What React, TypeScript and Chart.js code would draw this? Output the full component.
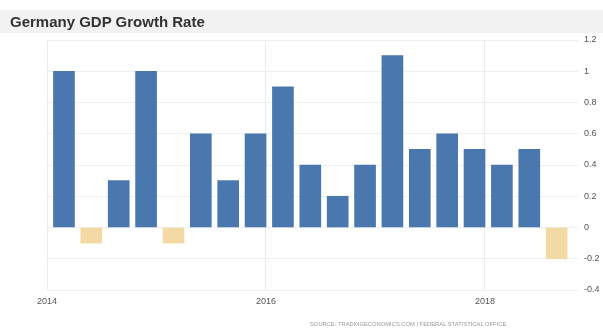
import React, { useEffect, useRef } from "react";
import { Chart, registerables } from "chart.js";

Chart.register(...registerables);

const quarters = [
  "2014Q1", "2014Q2", "2014Q3", "2014Q4",
  "2015Q1", "2015Q2", "2015Q3", "2015Q4",
  "2016Q1", "2016Q2", "2016Q3", "2016Q4",
  "2017Q1", "2017Q2", "2017Q3", "2017Q4",
  "2018Q1", "2018Q2", "2018Q3",
];
const growth = [
  1.0, -0.1, 0.3, 1.0,
  -0.1, 0.6, 0.3, 0.6,
  0.9, 0.4, 0.2, 0.4,
  1.1, 0.5, 0.6, 0.5,
  0.4, 0.5, -0.2,
];
const yearTicks = [2014, 2016, 2018];
const yMin = -0.4;
const yMax = 1.2;
const yStep = 0.2;

const title = "Germany GDP Growth Rate";
const source = "SOURCE: TRADINGECONOMICS.COM | FEDERAL STATISTICAL OFFICE";

const POS_COLOR = "#4a77ae";
const NEG_COLOR = "#f3d9a3";

function quarterToX(q: string): number {
  const year = Number(q.slice(0, 4));
  const n = Number(q.slice(5));
  return year + (n - 1) / 4 + 0.155;
}

export default function App() {
  const ref = useRef<HTMLCanvasElement | null>(null);

  useEffect(() => {
    if (!ref.current) return;
    const chart = new Chart(ref.current, {
      type: "bar",
      data: {
        datasets: [
          {
            data: quarters.map((q, i) => ({ x: quarterToX(q), y: growth[i] })),
            backgroundColor: growth.map((v) => (v < 0 ? NEG_COLOR : POS_COLOR)),
            borderWidth: 0,
            barThickness: 21,
          } as any,
        ],
      },
      options: {
        responsive: false,
        animation: false,
        layout: { padding: { left: 47, top: 40, right: 0, bottom: 0 } },
        plugins: {
          legend: { display: false },
          tooltip: { enabled: false },
          title: { display: false },
        },
        scales: {
          x: {
            type: "linear",
            min: 2014,
            max: 2018.85,
            offset: false,
            afterBuildTicks: (s: any) => {
              s.ticks = yearTicks.map((v) => ({ value: v }));
            },
            afterFit: (s: any) => {
              s.height = 42;
            },
            grid: { color: "#ebebeb", drawTicks: false, offset: false },
            border: { display: false },
            ticks: {
              padding: 6,
              autoSkip: false,
              maxRotation: 0,
              color: "#555",
              font: { size: 9, family: "'Liberation Sans', Arial, sans-serif" },
              callback: (v: any) => String(v),
            },
          },
          y: {
            position: "right",
            min: yMin,
            max: yMax,
            afterFit: (s: any) => {
              s.width = 25;
            },
            grid: { color: "#efefef", drawTicks: false },
            border: { display: false },
            ticks: {
              stepSize: yStep,
              padding: 6,
              color: "#555",
              font: { size: 9, family: "'Liberation Sans', Arial, sans-serif" },
              callback: (v: any) => String(Number(Number(v).toFixed(1))),
            },
          },
        },
      } as any,
    });
    return () => chart.destroy();
  }, []);

  return (
    <div
      style={{
        position: "fixed",
        left: 0,
        top: 0,
        width: 603,
        height: 332,
        background: "#ffffff",
        overflow: "hidden",
      }}
    >
      <div
        style={{
          position: "absolute",
          left: 0,
          top: 10,
          width: 603,
          height: 23,
          background: "#f2f2f2",
        }}
      />
      <canvas
        ref={ref}
        width={603}
        height={332}
        style={{ position: "absolute", left: 0, top: 0, width: 603, height: 332 }}
      />
      <div
        style={{
          position: "absolute",
          left: 10,
          top: 13,
          fontFamily: "'Liberation Sans', Arial, sans-serif",
          fontWeight: "bold",
          fontSize: 15,
          color: "#333",
          whiteSpace: "nowrap",
        }}
      >
        {title}
      </div>
      <div
        style={{
          position: "absolute",
          left: 310,
          top: 321,
          fontFamily: "'Liberation Sans', Arial, sans-serif",
          fontSize: 5.8,
          color: "#999",
          whiteSpace: "nowrap",
        }}
      >
        {source}
      </div>
    </div>
  );
}
